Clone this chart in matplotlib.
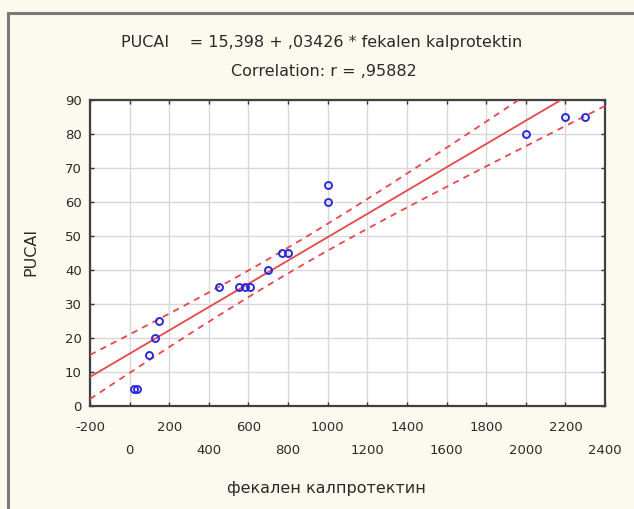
import numpy as np
import matplotlib
matplotlib.use("Agg")
import matplotlib.pyplot as plt
from matplotlib.patches import Rectangle

plt.rcParams['font.family'] = ['DejaVu Sans']

# Data
calprotectin = [20, 35, 100, 130, 150, 450, 550, 580, 610, 700, 770, 800, 1000, 1000, 2000, 2200, 2300]
pucai = [5, 5, 15, 20, 25, 35, 35, 35, 35, 40, 45, 45, 60, 65, 80, 85, 85]
intercept = 15.398
slope = 0.03426
t_crit = 2.13
x_ticks = list(range(-200, 2401, 200))
y_ticks = list(range(0, 91, 10))

title1 = "PUCAI    = 15,398 + ,03426 * fekalen kalprotektin"
title2 = "Correlation: r = ,95882"
xlabel = "фекален калпротектин"
ylabel = "PUCAI"

W, H = 634, 509
fig = plt.figure(figsize=(W / 100, H / 100), dpi=100)
fig.patch.set_facecolor('#fcf9ee')
fig.patches.append(Rectangle((8 / W, -0.05), 1.2, (H - 13) / H + 0.05, transform=fig.transFigure,
                             fill=False, edgecolor='#7a7a7a', linewidth=2.2))

ax = fig.add_axes([90 / W, (H - 406) / H, (605 - 90) / W, (406 - 100) / H])
ax.set_facecolor('white')

x = np.array(calprotectin, dtype=float)
y = np.array(pucai, dtype=float)
n = len(x)
xm = x.mean()
sxx = ((x - xm) ** 2).sum()
resid = y - (intercept + slope * x)
s = np.sqrt((resid ** 2).sum() / (n - 2))
xs = np.linspace(x_ticks[0], x_ticks[-1], 300)
yfit = intercept + slope * xs
hw = t_crit * s * np.sqrt(1 / n + (xs - xm) ** 2 / sxx)

red = '#e8474a'
ax.plot(xs, yfit, color=red, lw=1.3, zorder=3)
ax.plot(xs, yfit + hw, color=red, lw=1.3, ls=(0, (3.5, 3)), zorder=3)
ax.plot(xs, yfit - hw, color=red, lw=1.3, ls=(0, (3.5, 3)), zorder=3)
ax.plot(x, y, ls='none', marker='o', ms=5, mfc='none', mec='#2a2ad8', mew=1.4, zorder=4)

ax.set_xlim(x_ticks[0], x_ticks[-1])
ax.set_ylim(y_ticks[0], y_ticks[-1])
ax.set_xticks(x_ticks)
ax.set_yticks(y_ticks)
labels = [str(v) if i % 2 == 0 else "\n" + str(v) for i, v in enumerate(x_ticks)]
ax.set_xticklabels(labels)
for lbl in ax.get_xticklabels():
    lbl.set_linespacing(2.0)
ax.grid(True, color='#d8d8d8', lw=1.0)
ax.set_axisbelow(True)
ax.tick_params(direction='in', length=3, width=1, colors='#333333', labelcolor='#2a2a2a',
               labelsize=9.5, top=True, right=True)
ax.tick_params(axis='x', pad=11)
ax.tick_params(axis='y', pad=6)
for sp in ax.spines.values():
    sp.set_linewidth(1.6)
    sp.set_color('#404040')

txt_color = '#2a2a2a'
fig.text(326 / W, 1 - 489 / H, xlabel, ha='center', va='center', fontsize=11.5, color=txt_color)
fig.text(31 / W, 1 - 252 / H, ylabel, ha='center', va='center', rotation=90, fontsize=11.5, color=txt_color)

fig.text(322 / W, 1 - 43 / H, title1, ha='center', va='center', fontsize=11.5, color=txt_color)
fig.text(324 / W, 1 - 71 / H, title2, ha='center', va='center', fontsize=11.5, color=txt_color)

fig.savefig('out.png', dpi=100, facecolor=fig.get_facecolor())
